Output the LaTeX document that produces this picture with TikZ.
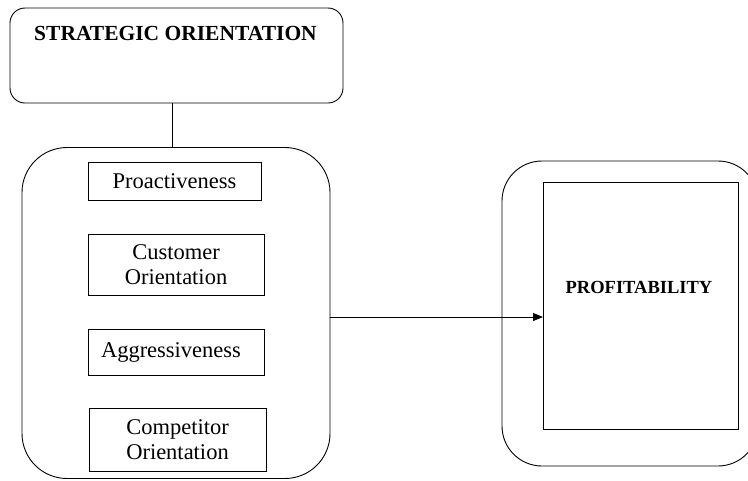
\documentclass[tikz,border=0pt]{standalone}
\usepackage{fontspec}
\setmainfont{Liberation Serif}
\usetikzlibrary{arrows.meta}
\begin{document}
\begin{tikzpicture}[x=1pt,y=-1pt,
  every node/.style={inner sep=0pt,outer sep=0pt},
  roundbox/.style={draw,line width=0.9pt,rounded corners=#1},
  itembox/.style={draw,line width=0.9pt,align=center,font=\fontsize{22.5}{25}\selectfont},
  conn/.style={line width=0.9pt}]
\useasboundingbox (0,0) rectangle (748,480);
\begin{scope}
\clip (0,0) rectangle (748,480);
\node[roundbox=15pt,minimum width=333pt,minimum height=95pt] (top) at (176.5,55.5) {};
\node[font=\bfseries\fontsize{21.5}{24}\selectfont] (title) at (175.5,33) {STRATEGIC ORIENTATION};
\node[roundbox=45pt,minimum width=308pt,minimum height=331pt] (big) at (176,313) {};
\node[itembox,minimum width=173pt,minimum height=38pt] (pro) at (174.5,181) {Proactiveness};
\node[itembox,minimum width=176pt,minimum height=61pt] (cust) at (176,264.5) {Customer\\Orientation};
\node[itembox,minimum width=176pt,minimum height=46pt] (agg) at (176,352) {\hspace*{-10pt}Aggressiveness};
\node[itembox,minimum width=177pt,minimum height=63pt] (comp) at (177.5,439.5) {Competitor\\Orientation};
\node[roundbox=40pt,minimum width=256pt,minimum height=305pt] (right) at (630,313.5) {};
\node[draw,line width=0.9pt,minimum width=195pt,minimum height=247pt] (prof) at (640.5,305.5) {};
\node[font=\bfseries\fontsize{18.5}{22}\selectfont] (proftext) at (639,287) {PROFITABILITY};
\coordinate (lx) at (172,0);
\coordinate (ay) at (0,317);
\draw[conn] (top.south -| lx) -- (big.north -| lx);
\draw[conn,-{Triangle[length=10pt,width=8pt]}] (big.east |- ay) -- (prof.west |- ay);
\end{scope}
\end{tikzpicture}
\end{document}
